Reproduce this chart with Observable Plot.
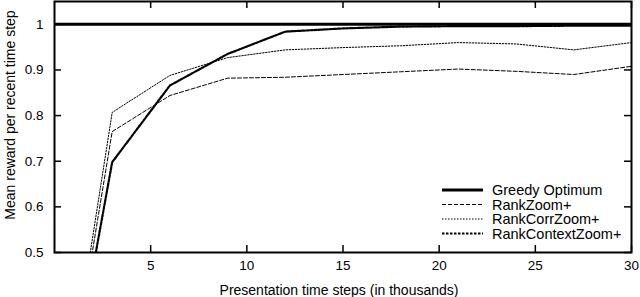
<!DOCTYPE html>
<html>
<head>
<meta charset="utf-8">
<script src="https://cdn.jsdelivr.net/npm/d3@7"></script>
<script src="https://cdn.jsdelivr.net/npm/@observablehq/plot@0.6"></script>
<style>
  html, body { margin: 0; padding: 0; background: #fff; }
  #chart { width: 640px; height: 297px; overflow: hidden; }
</style>
</head>
<body>
<div id="chart"></div>
<script>
// Data (x in thousands of presentation time steps)
const steps = [0, 3, 6, 9, 12, 15, 18, 21, 24, 27, 30];
const greedyOptimum   = [1, 1, 1, 1, 1, 1, 1, 1, 1, 1, 1];
const rankZoom        = [0, 0.765, 0.844, 0.882, 0.884, 0.890, 0.896, 0.902, 0.897, 0.890, 0.908];
const rankCorrZoom    = [0, 0.807, 0.888, 0.927, 0.944, 0.949, 0.953, 0.960, 0.957, 0.944, 0.960];
const rankContextZoom = [0, 0.698, 0.866, 0.935, 0.984, 0.991, 0.995, 0.996, 0.996, 0.997, 0.997];
const seriesNames = ["Greedy Optimum", "RankZoom+", "RankCorrZoom+", "RankContextZoom+"];
const seriesValues = [greedyOptimum, rankZoom, rankCorrZoom, rankContextZoom];
const xTicks = [5, 10, 15, 20, 25, 30];
const yTicks = [0.5, 0.6, 0.7, 0.8, 0.9, 1];
const xLabel = "Presentation time steps (in thousands)";
const yLabel = "Mean reward per recent time step";

const styles = [
  {strokeWidth: 3, strokeDasharray: null},
  {strokeWidth: 1, strokeDasharray: "4,2"},
  {strokeWidth: 1, strokeDasharray: "1.5,1.5"},
  {strokeWidth: 2.2, strokeDasharray: "2.5,1.5"}
];

const W = 640, H = 297;
const mL = 54, mR = 9, mT = 1, mB = 45;
const tickLen = 7;
const plotW = W - mL - mR, plotH = H - mT - mB;
const font = "'Liberation Sans', Arial, Helvetica, sans-serif";

const lineMarks = seriesValues.map((vals, i) =>
  Plot.line(steps.map((x, j) => ({x, y: vals[j]})), {
    x: "x", y: "y", stroke: "black",
    strokeWidth: styles[i].strokeWidth,
    strokeDasharray: styles[i].strokeDasharray,
    clip: true
  })
);

const chart = Plot.plot({
  width: W, height: H,
  marginLeft: mL, marginRight: mR, marginTop: mT, marginBottom: mB,
  style: {fontFamily: font, fontSize: "13px", color: "black", background: "white"},
  x: {domain: [0, 30]},
  y: {domain: [0.5, 1.05]},
  marks: [
    Plot.axisX(xTicks, {tickSize: 0, tickPadding: 8, label: null, fontSize: 13.5}),
    Plot.axisY(yTicks, {tickSize: 0, tickPadding: 11, label: null, fontSize: 13.5,
      tickFormat: d => d === 1 ? "1" : d.toFixed(1)}),
    // inward ticks on all four sides
    Plot.tickX(xTicks, {x: d => d, insetTop: plotH - tickLen, stroke: "black", strokeWidth: 1.5}),
    Plot.tickX(xTicks, {x: d => d, insetBottom: plotH - tickLen, stroke: "black", strokeWidth: 1.5}),
    Plot.tickY(yTicks, {y: d => d, insetRight: plotW - tickLen, stroke: "black", strokeWidth: 1.5}),
    Plot.tickY(yTicks, {y: d => d, insetLeft: plotW - tickLen, stroke: "black", strokeWidth: 1.5}),
    ...lineMarks,
    Plot.frame({stroke: "black", strokeWidth: 2}),
    Plot.text([xLabel], {frameAnchor: "bottom", lineAnchor: "middle", textAnchor: "middle", dy: 38, dx: -4, fontSize: 14, fill: "black"}),
    Plot.text([yLabel], {frameAnchor: "left", lineAnchor: "middle", textAnchor: "middle", rotate: -90, dx: -44, dy: -12, fontSize: 14, fill: "black"})
  ]
});

document.getElementById("chart").appendChild(chart);

// Legend inside the plot, lower right
const svg = d3.select(chart);
const frameRight = W - mR, frameBottom = H - mB;
const lg = svg.append("g")
  .attr("font-family", font)
  .attr("font-size", 14.5)
  .attr("text-anchor", "start");
seriesNames.forEach((name, i) => {
  const yy = frameBottom - 62 + i * 14.5;
  lg.append("line")
    .attr("x1", frameRight - 189).attr("x2", frameRight - 148)
    .attr("y1", yy).attr("y2", yy)
    .attr("stroke", "black")
    .attr("stroke-width", styles[i].strokeWidth)
    .attr("stroke-dasharray", styles[i].strokeDasharray);
  lg.append("text")
    .attr("x", frameRight - 139).attr("y", yy)
    .attr("dy", "0.35em")
    .attr("text-anchor", "start")
    .attr("fill", "black")
    .text(name);
});
</script>
</body>
</html>
